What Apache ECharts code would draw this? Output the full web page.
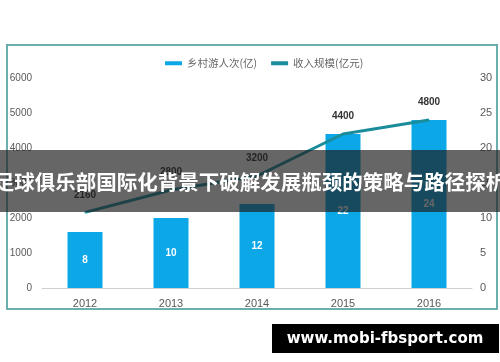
<!DOCTYPE html>
<html><head><meta charset="utf-8">
<script src="https://cdn.jsdelivr.net/npm/echarts@6/dist/echarts.min.js"></script>
<style>html,body{margin:0;padding:0;background:#fff}#c{width:500px;height:362px}</style>
</head><body><div id="c"></div>
<script>
const categories = ['2012','2013','2014','2015','2016'];
const visitors = [8, 10, 12, 22, 24];
const revenue = [2160, 2800, 3200, 4400, 4800];
const leftTicks = [0, 6000, 1000];
const rightTicks = [0, 30, 5];
const titleText = '足球俱乐部国际化背景下破解发展瓶颈的策略与路径探析';
const watermark = 'www.mobi-fbsport.com';

const chart = echarts.init(document.getElementById('c'));
const font = '"Liberation Sans", Arial, sans-serif';
chart.setOption({
  animation: false,
  backgroundColor: '#fff',
  textStyle: {fontFamily: font},
  legend: {
    top: 53, left: 160, itemGap: 14, itemWidth: 17, itemHeight: 4,
    textStyle: {color: '#666', fontSize: 10.5, fontFamily: '"Noto Sans CJK SC", sans-serif'},
    data: [{name: '乡村游人次(亿)', icon: 'rect'}, {name: '收入规模(亿元)', icon: 'rect'}]
  },
  grid: {left: 42, right: 28, top: 78, bottom: 74},
  xAxis: {
    type: 'category', data: categories,
    axisLine: {lineStyle: {color: '#d0d0d0'}}, axisTick: {show: false},
    axisLabel: {color: '#595959', fontSize: 11, margin: 10}
  },
  yAxis: [
    {type: 'value', min: leftTicks[0], max: leftTicks[1], interval: leftTicks[2],
     splitLine: {show: false}, axisLine: {show: false}, axisTick: {show: false},
     axisLabel: {color: '#595959', fontSize: 10, margin: 10, formatter: v => String(v)}},
    {type: 'value', min: rightTicks[0], max: rightTicks[1], interval: rightTicks[2],
     splitLine: {show: false}, axisLine: {show: false}, axisTick: {show: false},
     axisLabel: {color: '#595959', fontSize: 11, margin: 8}}
  ],
  series: [
    {name: '乡村游人次(亿)', type: 'bar', yAxisIndex: 1, data: visitors, barWidth: 35,
     itemStyle: {color: '#0ba7e6'},
     label: {show: true, position: 'inside', color: '#fff', fontSize: 10, fontWeight: 'bold'}},
    {name: '收入规模(亿元)', type: 'line', yAxisIndex: 0, data: revenue,
     showSymbol: true, symbol: 'circle', symbolSize: 1, lineStyle: {color: '#1a8c9c', width: 3}, itemStyle: {color: '#1a8c9c'},
     label: {show: true, position: 'top', distance: 12, color: '#333', fontSize: 10, fontWeight: 'bold'}}
  ],
  graphic: [
    {type: 'rect', shape: {x: 7, y: 45, width: 490, height: 264},
     style: {fill: 'none', stroke: '#6aaeae', lineWidth: 2}, z: 10},
    {type: 'rect', shape: {x: 0, y: 150, width: 500, height: 62},
     style: {fill: 'rgba(30,30,30,0.68)'}, z: 20},
    {type: 'text', x: 250, y: 182, z: 21,
     style: {text: titleText, fill: '#fff', font: 'bold 20.5px "Noto Sans CJK SC", sans-serif',
             textAlign: 'center', textVerticalAlign: 'middle'}},
    {type: 'rect', shape: {x: 272, y: 324, width: 227, height: 29},
     style: {fill: '#000'}, z: 20},
    {type: 'text', x: 385, y: 339, z: 21,
     style: {text: watermark, fill: '#fff', font: 'bold 15px "DejaVu Sans", sans-serif',
             textAlign: 'center', textVerticalAlign: 'middle'}}
  ]
});
</script></body></html>
